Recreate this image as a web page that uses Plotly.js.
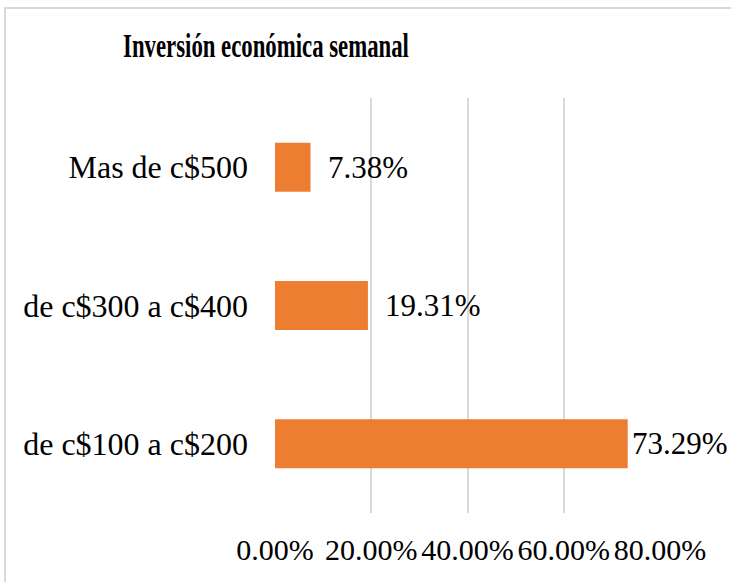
<!DOCTYPE html>
<html>
<head>
<meta charset="utf-8">
<script src="https://cdn.plot.ly/plotly-3.0.1.min.js"></script>
<style>
  html, body { margin: 0; padding: 0; background: #ffffff; }
  #wrap { position: relative; width: 731px; height: 582px; overflow: hidden; }
  #frame { position: absolute; left: 4px; top: 7px; width: 760px; height: 600px;
           border-left: 2px solid #d9d9d9; border-top: 2px solid #d9d9d9; box-sizing: border-box; }
  #chart { position: absolute; left: 0; top: 0; width: 731px; height: 582px; }
</style>
</head>
<body>
<div id="wrap">
  <div id="frame"></div>
  <div id="chart"></div>
</div>
<script>
const categories = ["de c$100 a c$200", "de c$300 a c$400", "Mas de c$500"];
const values = [0.7329, 0.1931, 0.0738];
const valueLabels = ["73.29%", "19.31%", "7.38%"];
const tickVals = [0, 0.2, 0.4, 0.6, 0.8];
const tickText = ["0.00%", "20.00%", "40.00%", "60.00%", "80.00%"];
const chartTitle = "Inversión económica semanal";

const font = "'Liberation Serif', 'Times New Roman', serif";

const trace = {
  type: "bar",
  orientation: "h",
  y: categories,
  x: values,
  marker: { color: "#ED7D31" },
  hoverinfo: "none"
};

const annotations = values.map((v, i) => ({
  x: v, y: categories[i], xref: "x", yref: "y",
  text: valueLabels[i], showarrow: false,
  xanchor: "left", yanchor: "middle",
  xshift: i === 0 ? 2 : 15,
  font: { family: font, size: 31, color: "#000000" }
}));

const layout = {
  width: 731, height: 582,
  margin: { l: 275, r: 71, t: 98, b: 69 },
  paper_bgcolor: "rgba(0,0,0,0)",
  plot_bgcolor: "rgba(0,0,0,0)",
  font: { family: font, color: "#000000" },
  showlegend: false,
  bargap: 0.646,
  title: {
    text: "<b>" + chartTitle + "</b>",
    font: { family: font, size: 34, color: "#000000" },
    xref: "container", yref: "container",
    x: 266 / 731, xanchor: "center",
    y: 1 - 45 / 582, yanchor: "middle"
  },
  xaxis: {
    range: [0, 0.8],
    tickvals: tickVals,
    ticktext: tickText,
    showgrid: true, gridcolor: "#d9d9d9", gridwidth: 2,
    zeroline: false, showline: false, ticks: "",
    ticklabelstandoff: 16,
    tickfont: { family: font, size: 30, color: "#000000" },
    fixedrange: true
  },
  yaxis: {
    type: "category",
    categoryorder: "array", categoryarray: categories,
    showgrid: false, zeroline: false, showline: false, ticks: "",
    ticklabelstandoff: 26,
    tickfont: { family: font, size: 32, color: "#000000" },
    fixedrange: true
  },
  annotations: annotations
};

Plotly.newPlot("chart", [trace], layout, { displayModeBar: false, staticPlot: true }).then(function () {
  // The reference title is set in a narrow (condensed) bold face: squeeze it horizontally.
  const t = document.querySelector("#chart .gtitle");
  if (t) {
    const bb = t.getBBox();
    const cx = bb.x + bb.width / 2;
    const s = 286 / bb.width;
    t.setAttribute("transform", "translate(" + cx + ",0) scale(" + s + ",1) translate(" + (-cx) + ",0)");
  }
});
</script>
</body>
</html>
